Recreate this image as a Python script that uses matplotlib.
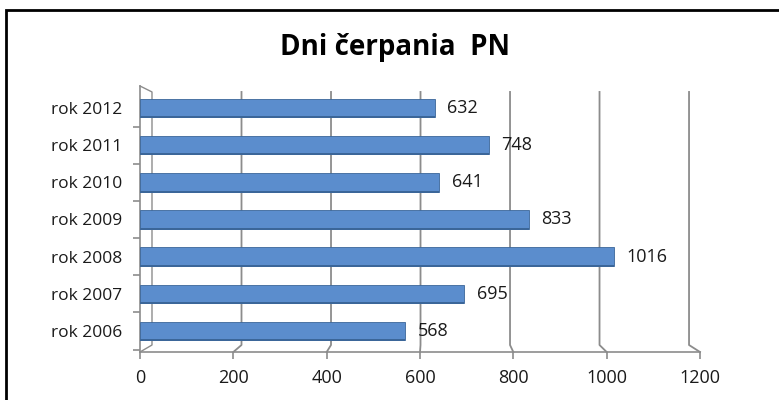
import matplotlib
matplotlib.use("Agg")
import matplotlib.pyplot as plt
from matplotlib.patches import Rectangle

# data, bottom to top as drawn
YEARS = ["rok 2006", "rok 2007", "rok 2008", "rok 2009", "rok 2010", "rok 2011", "rok 2012"]
DAYS = [568, 695, 1016, 833, 641, 748, 632]
XTICKS = [0, 200, 400, 600, 800, 1000, 1200]
TITLE = "Dni čerpania  PN"

FONT = ["Open Sans", "DejaVu Sans"]
plt.rcParams["font.family"] = FONT

GRID = "#8c8c8c"
BAR = "#5b8dcd"
EDGE = "#3b6699"
TXT = "#1a1a1a"

fig = plt.figure(figsize=(7.79, 4.0), dpi=100)
W, H = 779, 400
ax = fig.add_axes([140 / W, 1 - 352 / H, 560 / W, (352 - 86) / H])

ylo, yhi = -0.565, 6.59
ax.set_xlim(0, 1200)
ax.set_ylim(ylo, yhi)

# back wall projection (fake 3-D like the Excel chart)
def back(v):
    return 25.7 + 0.959 * v

y_floor = -0.377
y_wall_top = 6.43
for v in XTICKS[1:]:
    ax.plot([back(v), back(v), v], [y_wall_top, y_floor, ylo],
            color=GRID, lw=1.3, zorder=1, clip_on=False)
# left back edge and floor edge
ax.plot([0, back(0), back(0), 0], [yhi, y_wall_top, y_floor, ylo],
        color=GRID, lw=1.0, zorder=1, clip_on=False)

ypos = list(range(len(YEARS)))
ax.barh(ypos, DAYS, height=0.5, color=BAR, edgecolor=EDGE,
        linewidth=0.6, zorder=3)
# darker underside for the 3-D look
ax.barh([y - 0.25 for y in ypos], DAYS, height=0.05, color=EDGE,
        linewidth=0, zorder=3)

for y, v in zip(ypos, DAYS):
    ax.annotate(str(v), (v, y), xytext=(9, 0), textcoords="offset points",
                va="center", ha="left", fontsize=13, color=TXT)

ax.set_xticks(XTICKS)
ax.set_xticklabels([str(t) for t in XTICKS], fontsize=13, color=TXT)
ax.set_yticks(ypos)
ax.set_yticklabels(YEARS, fontsize=12.5, color=TXT)
ax.set_yticks([y + 0.5 for y in ypos[:-1]] + [-0.5], minor=True)
ax.tick_params(axis="y", which="major", length=0, pad=13)
ax.tick_params(axis="y", which="minor", length=5, color=GRID, width=1.2)
ax.tick_params(axis="x", length=5, color=GRID, width=1.2, pad=7)

for s in ("top", "right"):
    ax.spines[s].set_visible(False)
for s in ("left", "bottom"):
    ax.spines[s].set_color(GRID)
    ax.spines[s].set_linewidth(1.2)

fig.text(395 / W, 1 - 47 / H, TITLE, ha="center", va="center",
         fontsize=20, fontweight="bold", color="black")

fig.patches.append(Rectangle((6 / W, -0.01), 800 / W, 1 - 10 / H + 0.01,
                             transform=fig.transFigure, fill=False,
                             edgecolor="black", lw=2))

fig.savefig("out.png", dpi=100, facecolor="white")
